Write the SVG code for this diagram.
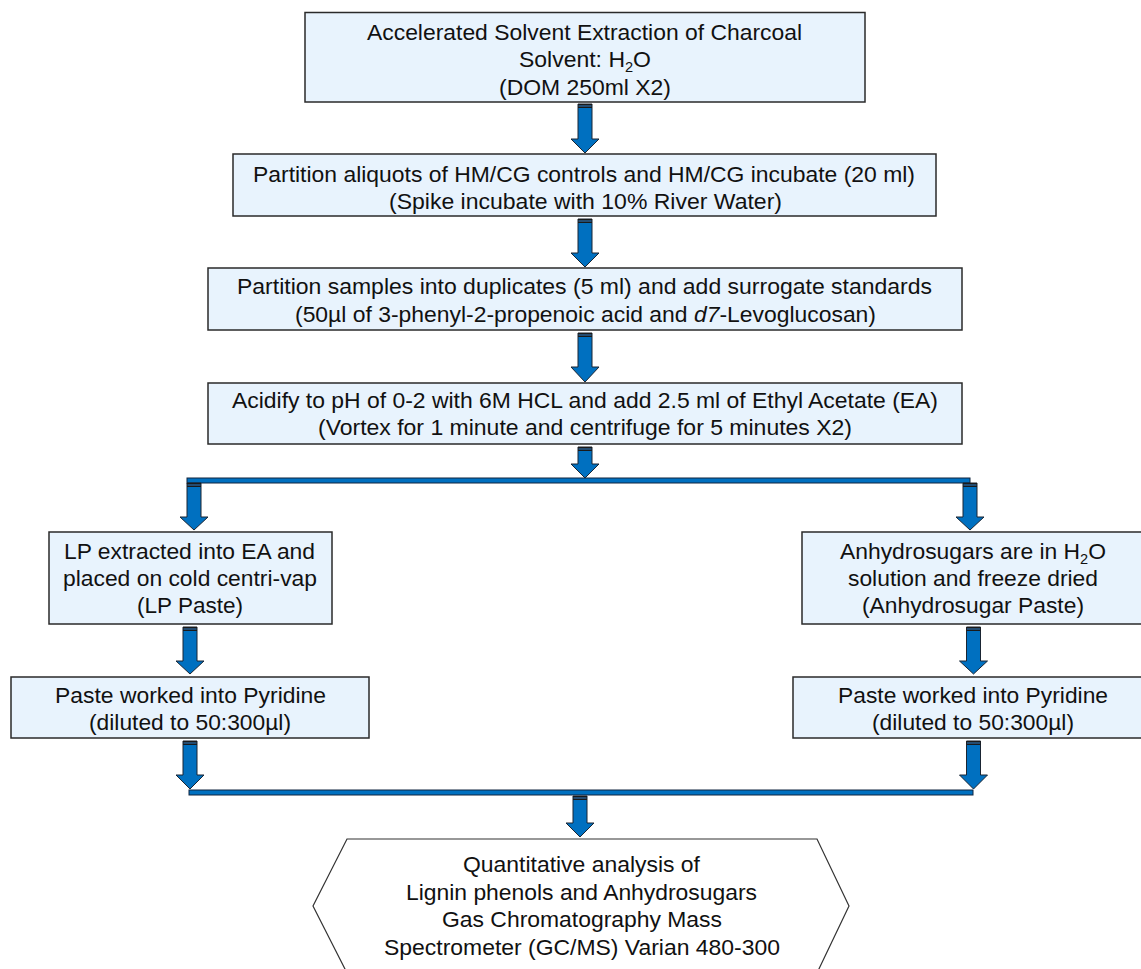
<svg xmlns="http://www.w3.org/2000/svg" width="1141" height="969" viewBox="0 0 1141 969">
<style>
.box{fill:#E8F3FD;stroke:#2a2a2a;stroke-width:1.5}
.hex{fill:#ffffff;stroke:#333333;stroke-width:1.2}
.t{font-family:"Liberation Sans",Arial,sans-serif;font-size:22px;fill:#111111;text-anchor:middle}
.arr{fill:#0070C0;stroke:#1a2533;stroke-width:1}
.bar{fill:#0070C0;stroke:#10253F;stroke-width:1}
.cap{fill:#1a1a1a}
.capl{stroke:#2f7fc8;stroke-width:1}
</style>
<rect width="1141" height="969" fill="#ffffff"/>
<g id="connectors">
  <rect class="bar" x="187" y="478" width="783" height="5"/>
  <rect class="bar" x="189" y="790" width="784" height="5"/>
  <polygon class="arr" points="578,104 592,104 592,139 599,139 585,153 571,139 578,139"/>
  <polygon class="arr" points="578,219 592,219 592,253 599,253 585,267 571,253 578,253"/>
  <polygon class="arr" points="578,333 592,333 592,367 599,367 585,382 571,367 578,367"/>
  <polygon class="arr" points="578,447 592,447 592,464 599,464 585,478 571,464 578,464"/>
  <polygon class="arr" points="187,483 201,483 201,517 208,517 194,530 180,517 187,517"/>
  <polygon class="arr" points="963,483 977,483 977,517 984,517 970,530 956,517 963,517"/>
  <polygon class="arr" points="183,627 197,627 197,661 204,661 190,674 176,661 183,661"/>
  <polygon class="arr" points="966.5,627 980.5,627 980.5,661 987.5,661 973.5,674 959.5,661 966.5,661"/>
  <polygon class="arr" points="183,741 197,741 197,775 204,775 190,789 176,775 183,775"/>
  <polygon class="arr" points="966.5,741 980.5,741 980.5,775 987.5,775 973.5,789 959.5,775 966.5,775"/>
  <polygon class="arr" points="573,796 587,796 587,823 594,823 580,837 566,823 573,823"/>
  <g id="caps">
    <rect class="cap" x="578" y="104" width="14" height="4"/><line class="capl" x1="578.5" y1="106" x2="591.5" y2="106"/>
    <rect class="cap" x="578" y="219" width="14" height="4"/><line class="capl" x1="578.5" y1="221" x2="591.5" y2="221"/>
    <rect class="cap" x="578" y="333" width="14" height="4"/><line class="capl" x1="578.5" y1="335" x2="591.5" y2="335"/>
    <rect class="cap" x="578" y="447" width="14" height="4"/><line class="capl" x1="578.5" y1="449" x2="591.5" y2="449"/>
    <rect class="cap" x="187" y="483" width="14" height="4"/><line class="capl" x1="187.5" y1="485" x2="200.5" y2="485"/>
    <rect class="cap" x="963" y="483" width="14" height="4"/><line class="capl" x1="963.5" y1="485" x2="976.5" y2="485"/>
    <rect class="cap" x="183" y="627" width="14" height="4"/><line class="capl" x1="183.5" y1="629" x2="196.5" y2="629"/>
    <rect class="cap" x="966.5" y="627" width="14" height="4"/><line class="capl" x1="967" y1="629" x2="980" y2="629"/>
    <rect class="cap" x="183" y="741" width="14" height="4"/><line class="capl" x1="183.5" y1="743" x2="196.5" y2="743"/>
    <rect class="cap" x="966.5" y="741" width="14" height="4"/><line class="capl" x1="967" y1="743" x2="980" y2="743"/>
    <rect class="cap" x="573" y="796" width="14" height="4"/><line class="capl" x1="573.5" y1="798" x2="586.5" y2="798"/>
  </g>
</g>
<g id="n1">
  <rect class="box" x="305" y="12.5" width="560" height="89.5"/>
  <text class="t" x="584.5" y="39.5" textLength="435" lengthAdjust="spacingAndGlyphs">Accelerated Solvent Extraction of Charcoal</text>
  <text class="t" x="585" y="67" textLength="132" lengthAdjust="spacingAndGlyphs">Solvent: H<tspan font-size="14" dy="5">2</tspan><tspan dy="-5">O</tspan></text>
  <text class="t" x="585" y="94.5" textLength="172" lengthAdjust="spacingAndGlyphs">(DOM 250ml X2)</text>
</g>
<g id="n2">
  <rect class="box" x="233" y="154" width="703" height="62"/>
  <text class="t" x="584" y="182" textLength="662" lengthAdjust="spacingAndGlyphs">Partition aliquots of HM/CG controls and HM/CG incubate (20 ml)</text>
  <text class="t" x="585.5" y="209" textLength="393" lengthAdjust="spacingAndGlyphs">(Spike incubate with 10% River Water)</text>
</g>
<g id="n3">
  <rect class="box" x="208" y="268" width="754" height="62"/>
  <text class="t" x="584.5" y="294" textLength="695" lengthAdjust="spacingAndGlyphs">Partition samples into duplicates (5 ml) and add surrogate standards</text>
  <text class="t" x="585.5" y="321.5" textLength="581" lengthAdjust="spacingAndGlyphs">(50µl of 3-phenyl-2-propenoic acid and <tspan font-style="italic">d7</tspan>-Levoglucosan)</text>
</g>
<g id="n4">
  <rect class="box" x="208" y="383" width="754" height="61"/>
  <text class="t" x="585" y="408" textLength="706" lengthAdjust="spacingAndGlyphs">Acidify to pH of 0-2 with 6M HCL and add 2.5 ml of Ethyl Acetate (EA)</text>
  <text class="t" x="585" y="435" textLength="534" lengthAdjust="spacingAndGlyphs">(Vortex for 1 minute and centrifuge for 5 minutes X2)</text>
</g>
<g id="n5">
  <rect class="box" x="49" y="532" width="283" height="92"/>
  <text class="t" x="189.5" y="559" textLength="251" lengthAdjust="spacingAndGlyphs">LP extracted into EA and</text>
  <text class="t" x="190" y="586" textLength="254" lengthAdjust="spacingAndGlyphs">placed on cold centri-vap</text>
  <text class="t" x="190" y="613" textLength="106" lengthAdjust="spacingAndGlyphs">(LP Paste)</text>
</g>
<g id="n6">
  <rect class="box" x="802" y="532" width="350" height="92"/>
  <text class="t" x="973" y="559" textLength="266" lengthAdjust="spacingAndGlyphs">Anhydrosugars are in H<tspan font-size="14" dy="5">2</tspan><tspan dy="-5">O</tspan></text>
  <text class="t" x="973" y="586" textLength="250" lengthAdjust="spacingAndGlyphs">solution and freeze dried</text>
  <text class="t" x="973" y="613" textLength="222" lengthAdjust="spacingAndGlyphs">(Anhydrosugar Paste)</text>
</g>
<g id="n7">
  <rect class="box" x="11" y="677" width="358" height="61"/>
  <text class="t" x="190.5" y="703" textLength="271" lengthAdjust="spacingAndGlyphs">Paste worked into Pyridine</text>
  <text class="t" x="190" y="730" textLength="202" lengthAdjust="spacingAndGlyphs">(diluted to 50:300µl)</text>
</g>
<g id="n8">
  <rect class="box" x="793" y="677" width="362" height="61"/>
  <text class="t" x="973" y="703" textLength="270" lengthAdjust="spacingAndGlyphs">Paste worked into Pyridine</text>
  <text class="t" x="973" y="730" textLength="202" lengthAdjust="spacingAndGlyphs">(diluted to 50:300µl)</text>
</g>
<g id="n9">
  <polygon class="hex" points="347,839 817,839 849,906 817,973 347,973 313,906"/>
  <text class="t" x="581.5" y="872" textLength="237" lengthAdjust="spacingAndGlyphs">Quantitative analysis of</text>
  <text class="t" x="581.5" y="900" textLength="351" lengthAdjust="spacingAndGlyphs">Lignin phenols and Anhydrosugars</text>
  <text class="t" x="582" y="927" textLength="280" lengthAdjust="spacingAndGlyphs">Gas Chromatography Mass</text>
  <text class="t" x="582" y="955" textLength="396" lengthAdjust="spacingAndGlyphs">Spectrometer (GC/MS) Varian 480-300</text>
</g>
</svg>
